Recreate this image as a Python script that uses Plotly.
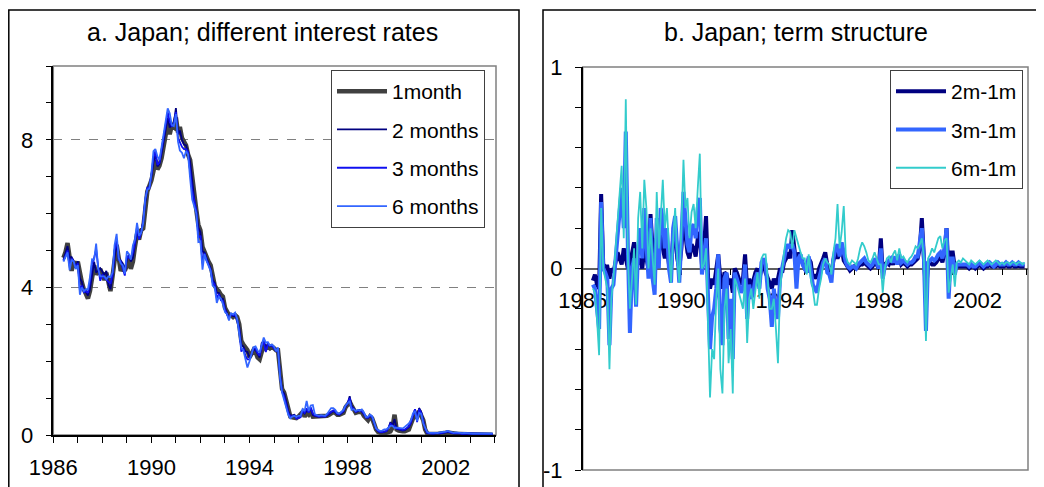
import numpy as np
import pandas as pd
import plotly.graph_objects as go

# ---------------- data (monthly, from June 1986) ----------------
start_month = "1986-06-01"

one_month = [
    4.80, 4.95, 5.20, 4.90, 4.45, 4.70, 4.55,
    4.70, 4.30, 4.15, 3.95, 3.85, 3.70, 3.90, 4.25, 4.60, 4.35, 4.45, 4.50,
    4.35, 4.20, 4.40, 4.05, 3.90, 4.30, 4.70, 5.15, 4.80, 4.45, 4.55, 4.45,
    4.60, 4.80, 4.50, 4.70, 5.10, 5.45, 5.30, 5.55, 5.60, 6.10, 6.60, 6.75,
    6.90, 7.15, 7.45, 7.20, 7.30, 7.50, 7.85, 8.25, 8.45, 8.15, 8.40, 8.35,
    8.60, 8.20, 8.35, 8.05, 7.95, 7.85, 7.60, 7.45, 7.00, 6.40, 6.10, 5.70,
    5.55, 5.10, 4.95, 4.80, 4.70, 4.60, 4.25, 4.05, 3.95, 3.90, 3.80, 3.75,
    3.45, 3.30, 3.25, 3.25, 3.20, 3.25, 3.20, 3.00, 2.55, 2.45, 2.35, 2.30,
    2.10, 2.20, 2.30, 2.25, 2.10, 2.05, 2.30, 2.45, 2.35, 2.40, 2.35, 2.40,
    2.35, 2.30, 2.30, 1.60, 1.25, 1.15, 0.95, 0.65, 0.50, 0.48, 0.47, 0.46,
    0.50, 0.55, 0.62, 0.50, 0.60, 0.55, 0.62, 0.50, 0.50, 0.50, 0.50, 0.50,
    0.50, 0.50, 0.52, 0.55, 0.60, 0.62, 0.60, 0.55, 0.55, 0.58, 0.60, 0.75,
    0.85, 0.90, 0.80, 0.70, 0.60, 0.62, 0.63, 0.62, 0.52, 0.45, 0.40, 0.50,
    0.45, 0.30, 0.15, 0.08, 0.05, 0.04, 0.04, 0.05, 0.08, 0.10, 0.20, 0.55,
    0.15, 0.12, 0.10, 0.10, 0.10, 0.12, 0.15, 0.30, 0.45, 0.50, 0.50, 0.65,
    0.55, 0.40, 0.15, 0.04, 0.03, 0.02, 0.02, 0.03, 0.03, 0.03, 0.04, 0.05,
    0.06, 0.07, 0.06, 0.04, 0.03, 0.03, 0.03, 0.03, 0.02, 0.02, 0.02, 0.02,
    0.02, 0.02, 0.01, 0.01, 0.01, 0.01, 0.01, 0.01, 0.01, 0.01, 0.01, 0.01,
]

spread_2m = [
    -0.06, -0.03, -0.08, -0.10, 0.37, 0.02, 0.01,
    0.01, -0.05, 0.00, -0.02, 0.02, 0.08, 0.05, 0.02, 0.10, 0.05, 0.00, 0.02,
    0.08, 0.13, 0.05, 0.02, 0.05, 0.00, 0.10, 0.05, 0.00, 0.27, 0.10, 0.05,
    0.15, 0.08, 0.20, 0.10, 0.05, 0.10, 0.02, 0.00, 0.15, 0.20, 0.05, 0.00,
    0.10, 0.25, 0.15, 0.08, 0.05, 0.12, 0.10, 0.06, 0.15, 0.18, 0.02, 0.10,
    0.26, -0.05, -0.10, -0.05, -0.08, 0.00, 0.07, -0.05, -0.10, -0.02, -0.03, -0.08,
    -0.05, -0.12, 0.00, -0.02, -0.05, -0.08, -0.05, 0.07, -0.10, -0.05, -0.10, -0.06,
    -0.02, 0.00, -0.05, 0.00, 0.02, -0.02, -0.05, -0.08, -0.10, -0.05, -0.08, -0.05,
    0.00, -0.02, 0.03, 0.05, 0.08, 0.05, 0.19, 0.10, 0.00, 0.08, 0.05, 0.03,
    0.00, -0.02, 0.05, 0.03, -0.05, -0.03, -0.05, 0.00, 0.02, 0.05, 0.08, 0.02,
    0.00, -0.02, 0.04, 0.08, 0.05, 0.08, 0.10, 0.04, 0.02, 0.00, -0.01, 0.00,
    0.01, 0.00, 0.01, 0.02, 0.02, 0.03, 0.02, 0.01, 0.00, 0.01, 0.03, 0.02,
    0.00, 0.15, -0.02, 0.02, 0.03, 0.02, 0.04, 0.02, 0.05, 0.03, 0.06, 0.02,
    0.03, 0.02, 0.01, 0.02, 0.02, 0.03, 0.04, 0.05, 0.10, 0.25, 0.05, -0.12,
    0.02, 0.03, 0.02, 0.02, 0.03, 0.05, 0.06, 0.03, 0.08, 0.20, -0.05, 0.08,
    0.08, 0.00, 0.01, 0.01, 0.01, 0.01, 0.01, 0.01, 0.00, 0.01, 0.01, 0.00,
    0.01, 0.02, 0.01, 0.00, 0.01, 0.01, 0.02, 0.01, 0.01, 0.01, 0.02, 0.01,
    0.01, 0.01, 0.02, 0.01, 0.01, 0.02, 0.01, 0.01, 0.02, 0.01, 0.01, 0.01,
]

spread_3m = [
    -0.08, -0.10, -0.20, -0.30, 0.33, 0.00, -0.02,
    -0.05, -0.38, -0.10, -0.08, 0.05, 0.15, 0.25, 0.40, 0.20, 0.68, 0.10, -0.32,
    0.00, 0.05, -0.19, 0.10, 0.20, 0.05, 0.30, 0.15, -0.05, 0.25, -0.05, -0.13,
    0.25, 0.00, 0.30, 0.25, 0.10, 0.20, 0.00, -0.07, 0.20, 0.26, 0.10, -0.07,
    0.15, 0.38, 0.25, 0.12, 0.08, 0.20, 0.22, 0.15, 0.30, 0.35, -0.03, 0.05,
    0.15, -0.15, -0.40, -0.24, -0.20, -0.10, 0.07, -0.30, -0.38, -0.05, -0.02, -0.35,
    -0.15, -0.45, -0.02, -0.05, -0.08, -0.12, -0.10, 0.02, -0.25, -0.08, -0.15, -0.12,
    -0.05, -0.02, -0.10, 0.03, 0.05, 0.02, -0.10, -0.15, -0.29, -0.10, -0.20, -0.25,
    -0.05, 0.00, 0.05, 0.10, 0.12, 0.10, 0.12, 0.08, -0.10, 0.05, 0.07, 0.02,
    0.00, -0.02, 0.06, 0.00, -0.08, -0.10, -0.12, -0.05, 0.00, 0.03, 0.05, -0.02,
    -0.03, -0.07, 0.05, 0.10, 0.12, 0.06, 0.13, 0.08, 0.03, 0.01, 0.00, 0.01,
    0.01, 0.00, 0.02, 0.03, 0.04, 0.05, 0.03, 0.02, 0.01, 0.02, 0.05, 0.03,
    0.00, 0.10, -0.05, 0.01, 0.03, 0.04, 0.05, 0.03, 0.06, 0.02, 0.07, 0.03,
    0.04, 0.03, 0.02, 0.03, 0.03, 0.04, 0.06, 0.06, 0.12, 0.20, 0.05, -0.31,
    0.03, 0.04, 0.05, 0.04, 0.05, 0.07, 0.08, 0.05, 0.10, 0.20, -0.15, 0.05,
    0.05, -0.03, 0.02, 0.02, 0.02, 0.02, 0.02, 0.02, 0.01, 0.02, 0.01, 0.01,
    0.02, 0.03, 0.02, 0.01, 0.02, 0.02, 0.03, 0.02, 0.01, 0.02, 0.03, 0.02,
    0.02, 0.02, 0.03, 0.02, 0.02, 0.03, 0.02, 0.02, 0.03, 0.02, 0.02, 0.02,
]

spread_6m = [
    -0.10, -0.12, -0.25, -0.43, 0.30, 0.00, -0.05,
    -0.10, -0.50, -0.15, -0.05, 0.10, 0.25, 0.38, 0.51, 0.15, 0.84, 0.05, -0.20,
    -0.05, 0.10, -0.18, 0.25, 0.38, 0.10, 0.44, 0.30, 0.00, 0.20, 0.05, -0.08,
    0.38, 0.10, 0.25, 0.44, 0.20, 0.30, 0.10, -0.07, 0.15, 0.30, 0.05, -0.07,
    0.20, 0.54, 0.30, 0.35, 0.15, 0.28, 0.32, 0.20, 0.40, 0.57, 0.00, 0.02,
    0.10, -0.25, -0.64, -0.40, -0.45, -0.15, 0.00, -0.50, -0.62, -0.20, -0.10, -0.47,
    -0.30, -0.62, -0.05, -0.08, -0.12, -0.15, -0.20, -0.05, -0.37, -0.15, -0.10, -0.20,
    -0.12, -0.02, -0.15, 0.05, 0.07, 0.07, -0.05, -0.20, -0.20, -0.15, -0.30, -0.47,
    -0.10, 0.00, 0.08, 0.15, 0.19, 0.18, 0.10, 0.19, 0.15, 0.12, 0.08, 0.05,
    0.05, -0.03, 0.07, -0.05, -0.10, -0.18, -0.18, -0.10, -0.05, 0.02, 0.05, 0.03,
    0.02, -0.03, 0.08, 0.15, 0.32, 0.10, 0.18, 0.31, 0.06, 0.03, 0.02, 0.04,
    0.03, 0.02, 0.05, 0.10, 0.13, 0.11, 0.08, 0.04, 0.03, 0.05, 0.08, 0.05,
    0.02, 0.02, -0.12, 0.00, 0.05, 0.06, 0.03, 0.07, 0.09, 0.04, 0.10, 0.05,
    0.06, 0.04, 0.03, 0.05, 0.06, 0.08, 0.11, 0.10, 0.12, 0.15, 0.05, -0.36,
    0.05, 0.07, 0.10, 0.08, 0.12, 0.15, 0.16, 0.10, 0.14, 0.15, -0.12, -0.05,
    0.02, -0.09, 0.03, 0.04, 0.03, 0.05, 0.04, 0.03, 0.02, 0.04, 0.03, 0.02,
    0.03, 0.04, 0.03, 0.02, 0.03, 0.04, 0.03, 0.02, 0.03, 0.04, 0.03, 0.02,
    0.03, 0.02, 0.03, 0.03, 0.02, 0.03, 0.03, 0.02, 0.03, 0.03, 0.02, 0.03,
]

rate_labels = ["1month", "2 months", "3 months", "6 months"]
spread_labels = ["2m-1m", "3m-1m", "6m-1m"]
year_tick_labels = ["1986", "1990", "1994", "1998", "2002"]
minor_years = list(range(1987, 2005))
rate_tick_labels = [0, 4, 8]
rate_minor = [1, 2, 3, 5, 6, 7, 9, 10]
spread_tick_vals = [-1, 0, 1]
spread_tick_text = ["-1", "0", "1"]
spread_minor = [-0.8, -0.6, -0.4, -0.2, 0.2, 0.4, 0.6, 0.8]
titles = ["a. Japan; different interest rates", "b. Japan; term structure"]

# ---------------- derived ----------------
n = len(one_month)
assert len(spread_2m) == n and len(spread_3m) == n and len(spread_6m) == n
dates = pd.date_range(start_month, periods=n, freq="MS")
r1 = np.array(one_month)
s2, s3, s6 = np.array(spread_2m), np.array(spread_3m), np.array(spread_6m)
rates = [r1, r1 + s2, r1 + s3, r1 + s6]
spreads = [s2, s3, s6]

# the page body adds an 8px margin; the figure is sized to fill the rest
OFF = 8
W, H = 1044 - OFF, 487 - OFF
def fx(px): return (px - OFF) / W
def fy(py): return 1 - (py - OFF) / H

FONT = "Arial, Liberation Sans, sans-serif"

fig = go.Figure()

rate_styles = [("#404040", 4.5), ("#000080", 1.8), ("#1010F0", 1.8), ("#3366FF", 1.8)]
for lab, y, (c, w) in zip(rate_labels, rates, rate_styles):
    fig.add_trace(go.Scatter(x=dates, y=y, mode="lines", name=lab,
                             line=dict(color=c, width=w),
                             legendgroup=lab, legend="legend",
                             xaxis="x", yaxis="y"))

spread_styles = [("#000080", 4), ("#3366FF", 4), ("#33CCCC", 1.8)]
for lab, y, (c, w) in zip(spread_labels, spreads, spread_styles):
    fig.add_trace(go.Scatter(x=dates, y=y, mode="lines", name=lab,
                             line=dict(color=c, width=w),
                             legendgroup=lab, legend="legend2",
                             xaxis="x2", yaxis="y2"))

year_vals = [f"{y}-01-01" for y in year_tick_labels]
minor_vals = [f"{y}-01-01" for y in minor_years]
xrange = ["1986-01-01", "2004-01-20"]

tickfont = dict(family=FONT, size=22, color="black")

xcommon = dict(type="date", range=xrange, tickmode="array", tickvals=year_vals,
               ticktext=year_tick_labels, ticks="outside", ticklen=6, tickwidth=1,
               tickcolor="black", showgrid=False, zeroline=False, tickfont=tickfont,
               ticklabelstandoff=6, automargin=False,
               minor=dict(tickmode="array", tickvals=minor_vals, ticks="outside",
                          ticklen=6, tickwidth=1, tickcolor="black", showgrid=False))

ya_dom = [fy(435), fy(66)]
yb_dom = [fy(470), fy(67)]

fig.update_layout(
    width=W, height=H,
    margin=dict(l=0, r=0, t=0, b=0, pad=0, autoexpand=False),
    paper_bgcolor="white", plot_bgcolor="white",
    font=dict(family=FONT, color="black"),
    xaxis=dict(**xcommon, domain=[fx(53.3), fx(496)], anchor="y",
               showline=True, linecolor="black", linewidth=1.5),
    yaxis=dict(domain=ya_dom, anchor="x", range=[0, 10], tickmode="array",
               tickvals=rate_tick_labels, ticks="outside", ticklen=6, tickcolor="black",
               showline=True, linecolor="black", linewidth=1.5, zeroline=False,
               showgrid=True, gridcolor="#808080", griddash="dash", gridwidth=1,
               tickfont=tickfont, ticklabelstandoff=8, automargin=False,
               minor=dict(tickmode="array", tickvals=rate_minor, ticks="outside",
                          ticklen=6, tickcolor="black", showgrid=False)),
    xaxis2=dict(**xcommon, domain=[fx(582.7), fx(1028)], anchor="free",
                position=(yb_dom[0] + yb_dom[1]) / 2,
                showline=True, linecolor="#606060", linewidth=1.5,
                layer="below traces"),
    yaxis2=dict(domain=yb_dom, anchor="x2", range=[-1, 1], tickmode="array",
                tickvals=spread_tick_vals, ticktext=spread_tick_text,
                ticks="outside", ticklen=6, tickcolor="black",
                showline=True, linecolor="black", linewidth=1.5, zeroline=False,
                showgrid=False, tickfont=tickfont, ticklabelstandoff=8, automargin=False,
                minor=dict(tickmode="array", tickvals=spread_minor, ticks="outside",
                           ticklen=6, tickcolor="black", showgrid=False)),
    legend=dict(x=fx(331), y=fy(70), xanchor="left", yanchor="top",
                bgcolor="white", bordercolor="#404040", borderwidth=1,
                font=dict(family=FONT, size=21, color="black"),
                tracegroupgap=8, itemwidth=50, traceorder="grouped"),
    legend2=dict(x=fx(890), y=fy(70), xanchor="left", yanchor="top",
                 bgcolor="white", bordercolor="#404040", borderwidth=1,
                 font=dict(family=FONT, size=21, color="black"),
                 tracegroupgap=8, itemwidth=50, traceorder="grouped"),
    showlegend=True,
)

shapes = [
    # outer panel frames
    dict(type="rect", xref="paper", yref="paper", x0=fx(8.8), x1=fx(519), y0=-0.02, y1=fy(10),
         line=dict(color="black", width=1.5), layer="below"),
    dict(type="rect", xref="paper", yref="paper", x0=fx(543), x1=fx(1043), y0=-0.02, y1=fy(10),
         line=dict(color="black", width=1.5), layer="below"),
    # plot-area borders
    dict(type="rect", xref="x domain", yref="y domain", x0=0, x1=1, y0=0, y1=1,
         line=dict(color="#808080", width=1.5), layer="below"),
    dict(type="rect", xref="x2 domain", yref="y2 domain", x0=0, x1=1, y0=0, y1=1,
         line=dict(color="#808080", width=1.5), layer="below"),
]
fig.update_layout(shapes=shapes)

fig.add_annotation(text=titles[0], xref="paper", yref="paper", x=fx(262), y=fy(32),
                   xanchor="center", yanchor="middle", showarrow=False,
                   font=dict(family=FONT, size=25, color="black"))
fig.add_annotation(text=titles[1], xref="paper", yref="paper", x=fx(796), y=fy(32),
                   xanchor="center", yanchor="middle", showarrow=False,
                   font=dict(family=FONT, size=25, color="black"))

fig.write_html("out.html")
